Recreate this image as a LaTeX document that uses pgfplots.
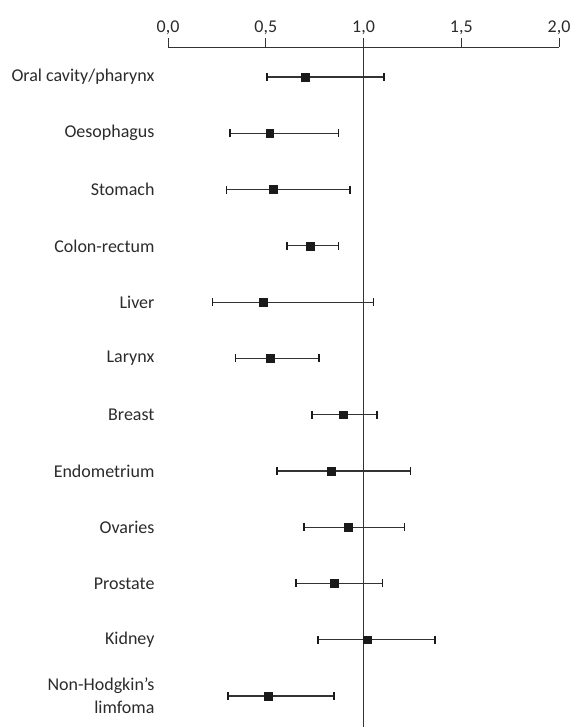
\documentclass[border=0pt]{standalone}
\usepackage{pgfplots}
\pgfplotsset{compat=1.18}
\usepackage{pgfplotstable}
\usepackage{fontspec}
\setmainfont{Carlito}
\definecolor{txt}{HTML}{2B2B2B}
\definecolor{ln}{HTML}{333333}
\definecolor{mk}{HTML}{1A1A1A}
\pgfplotstableread{
y x em ep
1 0.700 0.194 0.405
2 0.520 0.203 0.353
3 0.537 0.237 0.394
4 0.726 0.117 0.147
5 0.486 0.257 0.566
6 0.522 0.176 0.250
7 0.895 0.158 0.174
8 0.834 0.276 0.407
9 0.921 0.225 0.290
10 0.849 0.194 0.249
11 1.020 0.253 0.346
12 0.511 0.204 0.338
}\rr
\begin{document}
\begin{tikzpicture}
\useasboundingbox (-168pt,0pt) rectangle (404pt,727pt);
\begin{axis}[
  scale only axis, width=391pt, height=680pt,
  xmin=0, xmax=2, ymin=0.467, ymax=12.55, y dir=reverse,
  axis x line*=top, axis y line*=left,
  y axis line style={draw=none},
  x axis line style={color=ln, line width=0.9pt},
  xtick={0,0.5,1,1.5,2},
  xticklabel style={/pgf/number format/.cd, fixed, fixed zerofill, precision=1, use comma},
  /pgf/number format/assume math mode=true,
  tick align=outside, major tick length=9pt,
  xtick style={color=ln, line width=0.9pt},
  ytick={1,...,12}, ytick style={draw=none},
  yticklabels={Oral cavity/pharynx, Oesophagus, Stomach, Colon-rectum, Liver, Larynx, Breast, Endometrium, Ovaries, Prostate, Kidney, {Non-Hodgkin’s\\limfoma}},
  yticklabel style={align=right, xshift=-1pt},
  tick label style={font=\fontsize{18}{23}\selectfont, color=txt},
  clip=false,
]
\addplot[color=ln, line width=1.1pt] coordinates {(1,0.467) (1,12.55)};
\addplot[only marks, mark=square*, mark size=3.9pt, color=mk,
  error bars/.cd, x dir=both, x explicit,
  error bar style={color=ln, line width=1.2pt},
  error mark options={rotate=90, mark size=4pt, line width=1.3pt, color=mk}]
  table[x=x, y=y, x error minus=em, x error plus=ep]{\rr};
\end{axis}
\end{tikzpicture}
\end{document}
